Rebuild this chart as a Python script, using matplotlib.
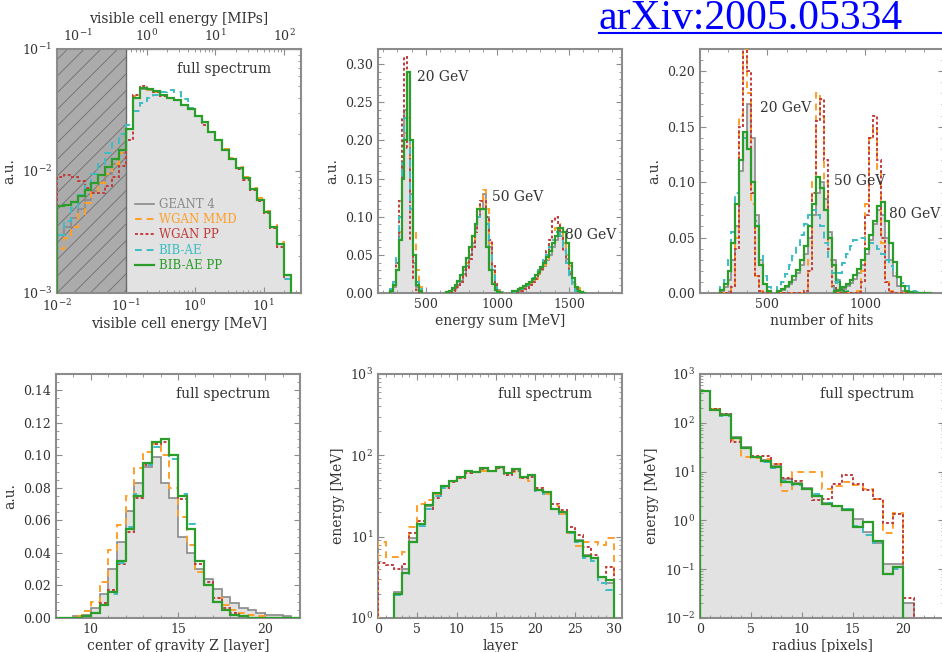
import numpy as np
import matplotlib.pyplot as plt
from matplotlib.lines import Line2D
from matplotlib.ticker import AutoMinorLocator, MultipleLocator, FormatStrFormatter, NullFormatter

# ---------------- data ----------------
labels = ['GEANT 4', 'WGAN MMD', 'WGAN PP', 'BIB-AE', 'BIB-AE PP']

# visible cell energy [MeV], 10 log bins per decade from 0.01 to 25 MeV
cell_geant4 = [0.0030, 0.0035, 0.0041, 0.0049, 0.0058, 0.0068, 0.0080, 0.0095, 0.0115, 0.0140,
               0.022, 0.040, 0.047, 0.046, 0.044, 0.042, 0.040, 0.038, 0.035, 0.032,
               0.028, 0.025, 0.021, 0.018, 0.015, 0.0125, 0.0105, 0.0088, 0.0071, 0.0058,
               0.0046, 0.0035, 0.0025, 0.0014]
cell_wgan_mmd = [0.0023, 0.0028, 0.0035, 0.0044, 0.0055, 0.0067, 0.0080, 0.0095, 0.0115, 0.0140,
                 0.022, 0.041, 0.048, 0.046, 0.044, 0.042, 0.040, 0.038, 0.035, 0.032,
                 0.028, 0.025, 0.021, 0.018, 0.0152, 0.0128, 0.0108, 0.0090, 0.0073, 0.0060,
                 0.0047, 0.0036, 0.0026, 0.0014]
cell_wgan_pp = [0.0090, 0.0092, 0.0090, 0.0083, 0.0073, 0.0066, 0.0066, 0.0075, 0.0090, 0.0110,
                0.018, 0.042, 0.050, 0.047, 0.044, 0.041, 0.040, 0.038, 0.035, 0.032,
                0.028, 0.024, 0.021, 0.018, 0.015, 0.0125, 0.0103, 0.0085, 0.0070, 0.0057,
                0.0045, 0.0034, 0.0024, 0.0013]
cell_bib_ae = [0.0030, 0.0039, 0.0050, 0.0063, 0.0078, 0.0095, 0.0115, 0.0140, 0.0170, 0.0200,
               0.024, 0.031, 0.036, 0.040, 0.042, 0.044, 0.046, 0.044, 0.039, 0.033,
               0.028, 0.025, 0.021, 0.018, 0.015, 0.0125, 0.0105, 0.0088, 0.0071, 0.0058,
               0.0046, 0.0035, 0.0025, 0.0013]
cell_bib_ae_pp = [0.0052, 0.0053, 0.0056, 0.0062, 0.0070, 0.0080, 0.0093, 0.0108, 0.0125, 0.0150,
                  0.022, 0.040, 0.048, 0.047, 0.045, 0.042, 0.040, 0.038, 0.035, 0.032,
                  0.028, 0.025, 0.021, 0.018, 0.015, 0.0126, 0.0106, 0.0088, 0.0071, 0.0058,
                  0.0046, 0.0035, 0.0025, 0.0014]

# energy sum [MeV], 20 MeV bins, one block per beam energy
esum_start = [250, 640, 1100]
e20_geant4 = [0.002, 0.008, 0.03, 0.08, 0.17, 0.24, 0.29, 0.13, 0.04, 0.008, 0.001]
e20_wgan_mmd = [0.003, 0.01, 0.03, 0.08, 0.15, 0.21, 0.23, 0.17, 0.08, 0.03, 0.008]
e20_wgan_pp = [0.002, 0.01, 0.04, 0.12, 0.23, 0.31, 0.19, 0.07, 0.02, 0.004, 0.0]
e20_bib_ae = [0.005, 0.015, 0.05, 0.10, 0.17, 0.23, 0.25, 0.11, 0.05, 0.015, 0.005]
e20_bib_ae_pp = [0.003, 0.01, 0.03, 0.07, 0.15, 0.20, 0.29, 0.20, 0.05, 0.01, 0.002]

e50_geant4 = [0.0, 0.002, 0.004, 0.007, 0.01, 0.016, 0.025, 0.035, 0.05, 0.065,
              0.085, 0.10, 0.11, 0.13, 0.10, 0.06, 0.03, 0.012, 0.004, 0.001]
e50_wgan_mmd = [0.001, 0.002, 0.004, 0.008, 0.012, 0.02, 0.03, 0.04, 0.055, 0.07,
                0.09, 0.105, 0.12, 0.135, 0.11, 0.065, 0.03, 0.01, 0.003, 0.0]
e50_wgan_pp = [0.0, 0.001, 0.002, 0.004, 0.008, 0.014, 0.022, 0.032, 0.045, 0.06,
               0.08, 0.10, 0.12, 0.12, 0.10, 0.07, 0.035, 0.012, 0.003, 0.0]
e50_bib_ae = [0.001, 0.003, 0.006, 0.01, 0.015, 0.022, 0.03, 0.045, 0.06, 0.075,
              0.09, 0.10, 0.11, 0.11, 0.09, 0.055, 0.025, 0.008, 0.002, 0.0]
e50_bib_ae_pp = [0.001, 0.003, 0.006, 0.01, 0.016, 0.024, 0.034, 0.046, 0.06, 0.075,
                 0.09, 0.11, 0.11, 0.11, 0.06, 0.03, 0.012, 0.004, 0.001, 0.0]

e80_geant4 = [0.001, 0.002, 0.003, 0.005, 0.007, 0.009, 0.012, 0.016, 0.02, 0.025, 0.03, 0.036, 0.043,
              0.05, 0.06, 0.07, 0.085, 0.08, 0.065, 0.045, 0.028, 0.015, 0.007, 0.003, 0.001, 0.0]
e80_wgan_mmd = [0.001, 0.002, 0.003, 0.004, 0.006, 0.008, 0.011, 0.015, 0.019, 0.024, 0.03, 0.037, 0.045,
                0.055, 0.07, 0.085, 0.09, 0.08, 0.065, 0.05, 0.035, 0.022, 0.012, 0.006, 0.002, 0.0]
e80_wgan_pp = [0.001, 0.001, 0.002, 0.003, 0.005, 0.007, 0.01, 0.014, 0.018, 0.024, 0.032, 0.042, 0.055,
               0.07, 0.095, 0.10, 0.09, 0.075, 0.055, 0.04, 0.025, 0.012, 0.005, 0.002, 0.0, 0.0]
e80_bib_ae = [0.001, 0.002, 0.003, 0.005, 0.008, 0.011, 0.015, 0.02, 0.025, 0.03, 0.036, 0.043, 0.05,
              0.06, 0.07, 0.08, 0.085, 0.075, 0.06, 0.04, 0.02, 0.008, 0.003, 0.001, 0.0, 0.0]
e80_bib_ae_pp = [0.002, 0.003, 0.005, 0.007, 0.009, 0.012, 0.015, 0.019, 0.023, 0.028, 0.034, 0.04, 0.047,
                 0.055, 0.065, 0.075, 0.085, 0.085, 0.08, 0.065, 0.04, 0.02, 0.008, 0.003, 0.001, 0.0]

# number of hits, 20-hit bins
hits_start = [260, 550, 840]
h20_geant4 = [0.002, 0.005, 0.012, 0.03, 0.06, 0.11, 0.145, 0.17, 0.14, 0.07, 0.03, 0.008, 0.002]
h20_wgan_mmd = [0.0, 0.0, 0.002, 0.008, 0.05, 0.16, 0.22, 0.18, 0.08, 0.015, 0.002, 0.0, 0.0]
h20_wgan_pp = [0.0, 0.0, 0.001, 0.005, 0.04, 0.15, 0.23, 0.20, 0.09, 0.015, 0.002, 0.0, 0.0]
h20_bib_ae = [0.005, 0.012, 0.03, 0.055, 0.09, 0.12, 0.14, 0.13, 0.10, 0.065, 0.035, 0.015, 0.005]
h20_bib_ae_pp = [0.003, 0.008, 0.02, 0.045, 0.08, 0.12, 0.145, 0.13, 0.10, 0.06, 0.025, 0.008, 0.002]

h50_geant4 = [0.001, 0.003, 0.005, 0.008, 0.012, 0.018, 0.025, 0.035, 0.05, 0.07,
              0.09, 0.10, 0.085, 0.055, 0.03, 0.012, 0.004, 0.001, 0.0]
h50_wgan_mmd = [0.0, 0.0, 0.0, 0.0, 0.0, 0.0, 0.0, 0.004, 0.03, 0.10,
                0.18, 0.16, 0.10, 0.03, 0.005, 0.0, 0.0, 0.0, 0.0]
h50_wgan_pp = [0.0, 0.0, 0.0, 0.0, 0.0, 0.0, 0.0, 0.002, 0.02, 0.09,
               0.155, 0.175, 0.12, 0.04, 0.006, 0.001, 0.0, 0.0, 0.0]
h50_bib_ae = [0.005, 0.01, 0.017, 0.025, 0.033, 0.042, 0.052, 0.062, 0.07, 0.075,
              0.07, 0.06, 0.045, 0.03, 0.018, 0.009, 0.004, 0.002, 0.0]
h50_bib_ae_pp = [0.002, 0.004, 0.006, 0.01, 0.015, 0.021, 0.03, 0.042, 0.06, 0.08,
                 0.105, 0.095, 0.075, 0.05, 0.025, 0.01, 0.003, 0.001, 0.0]

h80_geant4 = [0.001, 0.002, 0.004, 0.006, 0.009, 0.013, 0.018, 0.025, 0.035, 0.048, 0.062, 0.075, 0.07,
              0.05, 0.03, 0.015, 0.006, 0.002, 0.001, 0.0, 0.0, 0.0, 0.0, 0.0, 0.0]
h80_wgan_mmd = [0.0, 0.0, 0.0, 0.0, 0.0, 0.0, 0.002, 0.02, 0.08, 0.14, 0.15, 0.11, 0.045,
                0.01, 0.002, 0.0, 0.0, 0.0, 0.0, 0.0, 0.0, 0.0, 0.0, 0.0, 0.0]
h80_wgan_pp = [0.0, 0.0, 0.0, 0.0, 0.0, 0.0, 0.001, 0.01, 0.07, 0.14, 0.16, 0.12, 0.05,
               0.01, 0.001, 0.0, 0.0, 0.0, 0.0, 0.0, 0.0, 0.0, 0.0, 0.0, 0.0]
h80_bib_ae = [0.01, 0.018, 0.027, 0.035, 0.042, 0.048, 0.05, 0.05, 0.048, 0.045, 0.042, 0.04, 0.035,
              0.03, 0.024, 0.018, 0.013, 0.009, 0.006, 0.004, 0.002, 0.001, 0.0, 0.0, 0.0]
h80_bib_ae_pp = [0.002, 0.003, 0.005, 0.008, 0.012, 0.016, 0.022, 0.03, 0.04, 0.052, 0.065, 0.078, 0.082,
                 0.065, 0.045, 0.028, 0.014, 0.006, 0.002, 0.001, 0.0, 0.0, 0.0, 0.0, 0.0]

# center of gravity Z [layer], bins of 0.5 from 8 to 22
cog_geant4 = [0, 0, 0.001, 0.002, 0.006, 0.015, 0.03, 0.047, 0.066, 0.083, 0.093, 0.099, 0.083, 0.074,
              0.05, 0.04, 0.03, 0.024, 0.018, 0.013, 0.009, 0.006, 0.005, 0.003, 0.002, 0.002, 0.001, 0]
cog_wgan_mmd = [0, 0, 0.001, 0.004, 0.01, 0.022, 0.042, 0.057, 0.075, 0.092, 0.102, 0.107, 0.10, 0.08,
                0.062, 0.045, 0.028, 0.02, 0.012, 0.008, 0.005, 0.003, 0.002, 0.001, 0, 0, 0, 0]
cog_wgan_pp = [0, 0, 0, 0.001, 0.003, 0.009, 0.017, 0.033, 0.053, 0.074, 0.094, 0.107, 0.108, 0.10,
               0.073, 0.055, 0.033, 0.022, 0.012, 0.006, 0.003, 0.001, 0, 0, 0, 0, 0, 0]
cog_bib_ae = [0, 0, 0, 0.001, 0.003, 0.008, 0.015, 0.034, 0.056, 0.076, 0.094, 0.105, 0.11, 0.098,
              0.076, 0.058, 0.035, 0.02, 0.01, 0.005, 0.002, 0.001, 0, 0, 0, 0, 0, 0]
cog_bib_ae_pp = [0, 0, 0, 0.001, 0.003, 0.008, 0.016, 0.035, 0.055, 0.075, 0.095, 0.108, 0.11, 0.10,
                 0.075, 0.055, 0.035, 0.02, 0.01, 0.005, 0.002, 0.001, 0, 0, 0, 0, 0, 0]

# longitudinal profile, energy per layer [MeV], layers 0..29
layer_geant4 = [0, 0, 2.1, 4.0, 9.5, 14.5, 24, 34, 42, 49, 54, 65, 62, 69, 65,
                71, 61, 67, 54, 57, 37, 35, 22, 20, 11.5, 9.0, 6.0, 5.5, 3.2, 2.7]
layer_wgan_mmd = [8.5, 5.7, 5.6, 6.5, 13, 25, 28, 33, 42, 48, 52, 60, 62, 65, 64,
                  68, 60, 62, 52, 48, 38, 33, 24, 19, 11, 7.7, 8.5, 8.5, 8.0, 9.5]
layer_wgan_pp = [4.7, 4.5, 4.0, 4.6, 11, 15.5, 22, 30, 40, 47, 52, 60, 62, 68, 64,
                 70, 58, 65, 52, 54, 40, 35, 25, 21, 13, 10.5, 7.5, 6.0, 3.2, 4.2]
layer_bib_ae = [0, 0, 1.9, 3.5, 8.5, 13.5, 22, 32, 40, 48, 54, 64, 62, 70, 65,
                71, 61, 66, 54, 56, 36, 33, 22, 19, 11, 8.5, 5.5, 5.0, 2.7, 2.2]
layer_bib_ae_pp = [0, 0, 2.0, 3.6, 8.5, 14.3, 24.6, 34, 42, 49, 54, 65, 62, 69, 65,
                   71, 61, 67, 54, 57, 37.5, 35, 22, 20, 11.5, 8.9, 5.8, 5.4, 3.2, 2.9]

# radial profile, energy per radius bin [MeV], radius 0..20 pixels
radius_geant4 = [450, 190, 150, 50, 32, 20, 17, 13, 7.0, 5.8, 4.6, 3.2, 2.3, 2.0, 1.7,
                 1.05, 0.57, 0.35, 0.13, 0.13, 0.02]
radius_wgan_mmd = [450, 190, 145, 45, 20, 19, 18, 14, 4.0, 10, 10, 10, 4.5, 5.0, 6.0,
                   5.2, 4.5, 2.7, 0.55, 1.4, 0]
radius_wgan_pp = [450, 190, 150, 40, 30, 21, 21, 14, 7.5, 6.5, 4.5, 2.6, 2.7, 5.6, 8.5,
                  5.5, 4.2, 2.8, 0.87, 1.35, 0.026]
radius_bib_ae = [440, 180, 140, 48, 30, 20, 16, 12, 6.5, 5.3, 4.5, 3.4, 2.3, 2.0, 1.7,
                 0.75, 0.5, 0.35, 0.08, 0.1, 0]
radius_bib_ae_pp = [440, 185, 145, 48, 30, 19.6, 16.7, 12.6, 6.1, 5.6, 4.4, 3.2, 2.2, 2.0, 1.6,
                    0.73, 0.92, 0.38, 0.08, 0.11, 0]

# ---------------- style ----------------
plt.rcParams['font.family'] = 'DejaVu Serif'
plt.rcParams['mathtext.fontset'] = 'dejavuserif'
plt.rcParams['font.size'] = 9
plt.rcParams['hatch.linewidth'] = 0.6

colors = ['#8a8a8a', '#ff9f2a', '#c23b3b', '#3dbdc4', '#2a9d2a']
styles = ['-', (0, (3.5, 2.5)), (0, (1.5, 1.2)), (0, (3.5, 2.5)), '-']
widths = [1.2, 1.4, 1.4, 1.4, 1.6]
fill_grey = '#e2e2e2'
text_col = '#333333'
spine_col = '#8c8c8c'

W, H = 942, 652
fig = plt.figure(figsize=(W / 100, H / 100), dpi=100)


def make_ax(left, top, w=244, h=244):
    ax = fig.add_axes([left / W, 1 - (top + h) / H, w / W, h / H])
    for sp in ax.spines.values():
        sp.set_color(spine_col)
        sp.set_linewidth(1.5)
    ax.tick_params(which='both', direction='in', top=True, right=True,
                   color=spine_col, labelcolor=text_col, labelsize=9)
    ax.tick_params(which='major', length=4, width=0.8)
    ax.tick_params(which='minor', length=2, width=0.6)
    return ax


def hist(ax, edges, series, base=0.0):
    edges = np.asarray(edges, dtype=float)
    vals = [np.maximum(np.asarray(s, dtype=float), base) for s in series]
    ax.stairs(vals[0], edges, baseline=base, fill=True, color=fill_grey, lw=0, zorder=1)
    for v, c, ls, lw in zip(vals, colors, styles, widths):
        ax.stairs(v, edges, baseline=base, color=c, linestyle=ls, lw=lw, zorder=3)


def label_full(ax):
    ax.text(0.685, 0.92, 'full spectrum', transform=ax.transAxes, ha='center',
            va='center', fontsize=10, color=text_col)


def lin_axes(ax, major_x, major_y, fmt=None):
    ax.xaxis.set_major_locator(MultipleLocator(major_x))
    ax.yaxis.set_major_locator(MultipleLocator(major_y))
    ax.xaxis.set_minor_locator(AutoMinorLocator(5))
    ax.yaxis.set_minor_locator(AutoMinorLocator(5))
    if fmt:
        ax.yaxis.set_major_formatter(FormatStrFormatter(fmt))


# ---- top left: cell energy spectrum
ax1 = make_ax(57, 49)
ax1.set_xscale('log')
ax1.set_yscale('log')
cell_edges = np.logspace(-2, 1.4, len(cell_geant4) + 1)
hist(ax1, cell_edges, [cell_geant4, cell_wgan_mmd, cell_wgan_pp, cell_bib_ae, cell_bib_ae_pp], base=1e-5)
ax1.axvspan(0.01, 0.1, facecolor='#ababab', edgecolor='#6e6e6e', hatch='//', lw=0, zorder=2)
ax1.axvline(0.1, color='#6a6a6a', lw=1, zorder=2)
ax1.set_xlim(0.01, 35)
ax1.set_ylim(1e-3, 1e-1)
ax1.tick_params(which='both', top=False)
ax1.set_xlabel('visible cell energy [MeV]', fontsize=10, color=text_col, labelpad=2)
ax1.set_ylabel('a.u.', fontsize=10, color=text_col)
sec = ax1.secondary_xaxis('top', functions=(lambda e: e / 0.2, lambda m: m * 0.2))
sec.set_xticks([0.1, 1, 10, 100])
sec.xaxis.set_minor_formatter(NullFormatter())
sec.tick_params(which='both', direction='in', color=spine_col, labelcolor=text_col, labelsize=9)
sec.tick_params(which='major', length=4)
sec.tick_params(which='minor', length=2)
sec.set_xlabel('visible cell energy [MIPs]', fontsize=10, color=text_col)
label_full(ax1)
handles = [Line2D([], [], color=c, ls=ls, lw=lw) for c, ls, lw in zip(colors, styles, widths)]
leg = ax1.legend(handles, labels, loc='upper left', bbox_to_anchor=(0.3, 0.41), frameon=False,
                 fontsize=8.5, handlelength=1.6, handletextpad=0.4, labelspacing=0.2, borderaxespad=0)
for t, c in zip(leg.get_texts(), colors):
    t.set_color(c)

# ---- top middle: energy sum
ax2 = make_ax(378, 49)
esum_blocks = [
    [e20_geant4, e20_wgan_mmd, e20_wgan_pp, e20_bib_ae, e20_bib_ae_pp],
    [e50_geant4, e50_wgan_mmd, e50_wgan_pp, e50_bib_ae, e50_bib_ae_pp],
    [e80_geant4, e80_wgan_mmd, e80_wgan_pp, e80_bib_ae, e80_bib_ae_pp],
]
for start, block in zip(esum_start, esum_blocks):
    hist(ax2, start + 20 * np.arange(len(block[0]) + 1), block)
ax2.set_xlim(165, 1870)
ax2.set_ylim(0, 0.32)
lin_axes(ax2, 500, 0.05, '%.2f')
ax2.set_xlabel('energy sum [MeV]', fontsize=10, color=text_col, labelpad=2)
ax2.set_ylabel('a.u.', fontsize=10, color=text_col)
ax2.text(438, 0.283, '20 GeV', fontsize=10, color=text_col, va='center')
ax2.text(962, 0.126, '50 GeV', fontsize=10, color=text_col, va='center')
ax2.text(1473, 0.076, '80 GeV', fontsize=10, color=text_col, va='center')

# ---- top right: number of hits
ax3 = make_ax(700, 49)
hits_blocks = [
    [h20_geant4, h20_wgan_mmd, h20_wgan_pp, h20_bib_ae, h20_bib_ae_pp],
    [h50_geant4, h50_wgan_mmd, h50_wgan_pp, h50_bib_ae, h50_bib_ae_pp],
    [h80_geant4, h80_wgan_mmd, h80_wgan_pp, h80_bib_ae, h80_bib_ae_pp],
]
for start, block in zip(hits_start, hits_blocks):
    hist(ax3, start + 20 * np.arange(len(block[0]) + 1), block)
ax3.set_xlim(160, 1400)
ax3.set_ylim(0, 0.22)
lin_axes(ax3, 500, 0.05, '%.2f')
ax3.set_xlabel('number of hits', fontsize=10, color=text_col, labelpad=2)
ax3.set_ylabel('a.u.', fontsize=10, color=text_col)
ax3.text(465, 0.167, '20 GeV', fontsize=10, color=text_col, va='center')
ax3.text(841, 0.101, '50 GeV', fontsize=10, color=text_col, va='center')
ax3.text(1121, 0.071, '80 GeV', fontsize=10, color=text_col, va='center')

# ---- bottom left: center of gravity
ax4 = make_ax(56, 374)
hist(ax4, np.arange(8, 22.01, 0.5), [cog_geant4, cog_wgan_mmd, cog_wgan_pp, cog_bib_ae, cog_bib_ae_pp])
ax4.set_xlim(8, 22)
ax4.set_ylim(0, 0.15)
lin_axes(ax4, 5, 0.02, '%.2f')
ax4.xaxis.set_minor_locator(MultipleLocator(1))
ax4.yaxis.set_minor_locator(AutoMinorLocator(4))
ax4.set_xlabel('center of gravity Z [layer]', fontsize=10, color=text_col, labelpad=2)
ax4.set_ylabel('a.u.', fontsize=10, color=text_col)
label_full(ax4)

# ---- bottom middle: longitudinal profile
ax5 = make_ax(378, 374)
ax5.set_yscale('log')
hist(ax5, np.arange(len(layer_geant4) + 1),
     [layer_geant4, layer_wgan_mmd, layer_wgan_pp, layer_bib_ae, layer_bib_ae_pp], base=1e-3)
ax5.set_xlim(0, 31)
ax5.set_ylim(1, 1e3)
ax5.xaxis.set_major_locator(MultipleLocator(5))
ax5.xaxis.set_minor_locator(MultipleLocator(1))
ax5.set_xlabel('layer', fontsize=10, color=text_col, labelpad=2)
ax5.set_ylabel('energy [MeV]', fontsize=10, color=text_col)
label_full(ax5)

# ---- bottom right: radial profile
ax6 = make_ax(700, 374)
ax6.set_yscale('log')
hist(ax6, np.arange(len(radius_geant4) + 1),
     [radius_geant4, radius_wgan_mmd, radius_wgan_pp, radius_bib_ae, radius_bib_ae_pp], base=1e-4)
ax6.set_xlim(0, 24)
ax6.set_ylim(1e-2, 1e3)
ax6.xaxis.set_major_locator(MultipleLocator(5))
ax6.xaxis.set_minor_locator(MultipleLocator(1))
ax6.set_xlabel('radius [pixels]', fontsize=10, color=text_col, labelpad=2)
ax6.set_ylabel('energy [MeV]', fontsize=10, color=text_col)
label_full(ax6)

# arXiv reference in the top right corner
fig.text(599 / W, 1 - 29 / H, 'arXiv:2005.05334', color='#0000ff', fontsize=30,
         family='Liberation Serif', ha='left', va='baseline')
fig.add_artist(Line2D([599 / W, 1.0], [1 - 33 / H, 1 - 33 / H], color='#0000ff', lw=1.5))

fig.savefig('out.png', dpi=100)
